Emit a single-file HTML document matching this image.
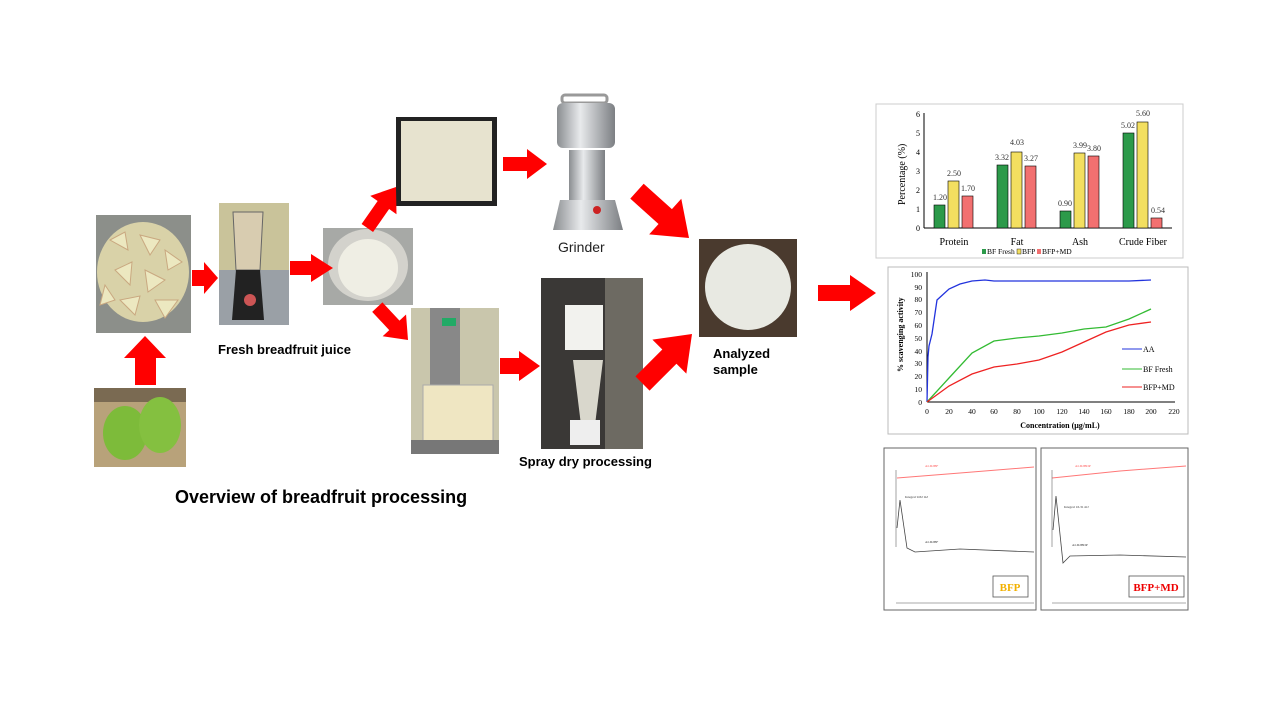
<!DOCTYPE html>
<html><head><meta charset="utf-8"><style>
html,body{margin:0;padding:0;background:#fff;width:1280px;height:720px;overflow:hidden}
svg{display:block}
text{font-family:"Liberation Sans",Arial,sans-serif}
g.s text{font-family:"Liberation Serif",serif}
</style></head><body>
<svg width="1280" height="720" viewBox="0 0 1280 720" xmlns="http://www.w3.org/2000/svg">
<defs>
<linearGradient id="steel" x1="0" x2="1"><stop offset="0" stop-color="#8a8d90"/><stop offset=".4" stop-color="#e8eaec"/><stop offset="1" stop-color="#7c7f83"/></linearGradient>
</defs>

<!-- photo 1 breadfruit pieces -->
<rect x="96" y="215" width="95" height="118" fill="#8c8f8a"/>
<ellipse cx="143" cy="272" rx="46" ry="50" fill="#d9d2a8"/>
<g fill="#ece8c0" stroke="#c9a880" stroke-width="1">
<polygon points="110,240 125,232 128,250"/><polygon points="140,235 160,240 150,255"/><polygon points="165,250 182,262 168,270"/>
<polygon points="115,270 132,262 130,285"/><polygon points="145,270 165,280 148,292"/><polygon points="120,300 140,296 135,315"/>
<polygon points="155,300 178,300 165,318"/><polygon points="105,285 115,300 100,305"/></g>
<!-- photo 2 green fruit -->
<rect x="94" y="388" width="92" height="79" fill="#b8a27a"/>
<rect x="94" y="388" width="92" height="14" fill="#7a6a52"/>
<ellipse cx="125" cy="433" rx="22" ry="27" fill="#7dbb3a"/>
<ellipse cx="160" cy="425" rx="21" ry="28" fill="#84c040"/>
<!-- photo 3 blender -->
<rect x="219" y="203" width="70" height="122" fill="#c9c39a"/>
<rect x="219" y="270" width="70" height="55" fill="#9aa0a6"/>
<path d="M233 212 h30 l-3 58 h-24 z" fill="#d8ccb0" stroke="#666"/>
<path d="M236 270 h24 l4 50 h-32 z" fill="#222"/>
<circle cx="250" cy="300" r="6" fill="#c55" />
<!-- photo 4 bowl -->
<rect x="323" y="228" width="90" height="77" fill="#a7a9a6"/>
<ellipse cx="368" cy="265" rx="40" ry="36" fill="#d3d2cc"/>
<ellipse cx="368" cy="268" rx="30" ry="29" fill="#efeee4"/>
<!-- photo 5 tray -->
<rect x="396" y="117" width="101" height="89" fill="#222"/>
<rect x="401" y="121" width="91" height="80" fill="#e7e3cf"/>
<!-- photo 6 beaker -->
<rect x="411" y="308" width="88" height="146" fill="#c9c6ac"/>
<rect x="430" y="308" width="30" height="90" fill="#888"/>
<rect x="442" y="318" width="14" height="8" fill="#2a6"/>
<rect x="423" y="385" width="70" height="60" fill="#efe6c2" stroke="#aaa"/>
<rect x="411" y="440" width="88" height="14" fill="#777"/>
<!-- grinder -->
<rect x="562" y="95" width="45" height="8" rx="3" fill="none" stroke="#999" stroke-width="3"/>
<rect x="557" y="103" width="58" height="45" rx="6" fill="url(#steel)"/>
<rect x="569" y="150" width="36" height="50" fill="url(#steel)"/>
<path d="M560 200 h55 l8 30 h-70 z" fill="url(#steel)"/>
<circle cx="597" cy="210" r="4" fill="#c22"/>
<text x="558" y="252" font-size="14" fill="#222">Grinder</text>
<!-- spray dryer -->
<rect x="541" y="278" width="102" height="171" fill="#3a3836"/>
<rect x="605" y="278" width="38" height="171" fill="#6d6a62"/>
<rect x="565" y="305" width="38" height="45" fill="#f2f2ee"/>
<path d="M573 360 h30 l-8 65 h-14 z" fill="#d9d7cc"/>
<rect x="570" y="420" width="30" height="25" fill="#eee"/>
<text x="519" y="466" font-size="13" font-weight="bold">Spray dry processing</text>
<!-- analyzed sample -->
<rect x="699" y="239" width="98" height="98" fill="#4a3a2e"/>
<circle cx="748" cy="287" r="43" fill="#e8e9e2"/>
<text x="713" y="358" font-size="13" font-weight="bold">Analyzed</text>
<text x="713" y="374" font-size="13" font-weight="bold">sample</text>

<text x="218" y="354" font-size="13" font-weight="bold">Fresh breadfruit juice</text>
<text x="175" y="503" font-size="18" font-weight="bold">Overview of breadfruit processing</text>

<!-- arrows -->
<polygon points="135,385 135,358 124,358 145,336 166,358 156,358 156,385" fill="#f00"/>
<polygon points="192,270 204,270 204,262 218,278 204,294 204,286 192,286" fill="#f00"/>
<polygon points="290,261 311,261 311,254 333,268 311,282 311,275 290,275" fill="#f00"/>
<g transform="translate(396,187) rotate(-55)"><polygon points="-50,-7 -22,-7 -22,-16 0,0 -22,16 -22,7 -50,7" fill="#f00"/></g>
<g transform="translate(408,340) rotate(47)"><polygon points="-45,-7 -20,-7 -20,-16 0,0 -20,16 -20,7 -45,7" fill="#f00"/></g>
<polygon points="503,157 527,157 527,149 547,164 527,179 527,171 503,171" fill="#f00"/>
<polygon points="500,358 519,358 519,351 540,366 519,381 519,374 500,374" fill="#f00"/>
<g transform="translate(689,238) rotate(42)"><polygon points="-70,-10 -32,-10 -32,-24 0,0 -32,24 -32,10 -70,10" fill="#f00"/></g>
<g transform="translate(692,334) rotate(-45)"><polygon points="-70,-10 -32,-10 -32,-24 0,0 -32,24 -32,10 -70,10" fill="#f00"/></g>
<polygon points="818,285 850,285 850,275 876,293 850,311 850,301 818,301" fill="#f00"/>

<!-- bar chart -->
<g class="s">
<rect x="876" y="104" width="307" height="154" fill="#fff" stroke="#ccc"/>
<line x1="924" y1="113" x2="924" y2="228" stroke="#000"/>
<line x1="924" y1="228" x2="1172" y2="228" stroke="#000"/>
<g font-size="8" text-anchor="end">
<text x="920" y="231">0</text><text x="920" y="212">1</text><text x="920" y="193">2</text><text x="920" y="174">3</text><text x="920" y="155">4</text><text x="920" y="136">5</text><text x="920" y="117">6</text></g>
<text transform="translate(905,205) rotate(-90)" font-size="10">Percentage (%)</text>
<g stroke="#000" stroke-width=".6">
<rect x="934" y="205" width="11" height="23" fill="#2c9a4a"/><rect x="948" y="181" width="11" height="47" fill="#f3df60"/><rect x="962" y="196" width="11" height="32" fill="#f27070"/>
<rect x="997" y="165" width="11" height="63" fill="#2c9a4a"/><rect x="1011" y="152" width="11" height="76" fill="#f3df60"/><rect x="1025" y="166" width="11" height="62" fill="#f27070"/>
<rect x="1060" y="211" width="11" height="17" fill="#2c9a4a"/><rect x="1074" y="153" width="11" height="75" fill="#f3df60"/><rect x="1088" y="156" width="11" height="72" fill="#f27070"/>
<rect x="1123" y="133" width="11" height="95" fill="#2c9a4a"/><rect x="1137" y="122" width="11" height="106" fill="#f3df60"/><rect x="1151" y="218" width="11" height="10" fill="#f27070"/>
</g>
<g font-size="8" fill="#333" text-anchor="middle">
<text x="940" y="200">1.20</text><text x="954" y="176">2.50</text><text x="968" y="191">1.70</text>
<text x="1002" y="160">3.32</text><text x="1017" y="145">4.03</text><text x="1031" y="161">3.27</text>
<text x="1065" y="206">0.90</text><text x="1080" y="148">3.99</text><text x="1094" y="151">3.80</text>
<text x="1128" y="128">5.02</text><text x="1143" y="116">5.60</text><text x="1158" y="213">0.54</text></g>
<g font-size="10" text-anchor="middle">
<text x="954" y="245">Protein</text><text x="1017" y="245">Fat</text><text x="1080" y="245">Ash</text><text x="1143" y="245">Crude Fiber</text></g>
<g font-size="7.5"><rect x="982" y="249" width="4" height="5" fill="#2c9a4a"/><text x="987" y="254">BF Fresh</text>
<rect x="1017" y="249" width="4" height="5" fill="#f3df60" stroke="#000" stroke-width=".4"/><text x="1022" y="254">BFP</text>
<rect x="1037" y="249" width="4" height="5" fill="#f27070"/><text x="1042" y="254">BFP+MD</text></g>
</g>

<!-- line chart -->
<g class="s">
<rect x="888" y="267" width="300" height="167" fill="#fff" stroke="#bbb"/>
<line x1="927" y1="272" x2="927" y2="402" stroke="#000"/>
<line x1="927" y1="402" x2="1175" y2="402" stroke="#000"/>
<g font-size="7.5" text-anchor="end">
<text x="922" y="405">0</text><text x="922" y="392">10</text><text x="922" y="379">20</text><text x="922" y="366">30</text><text x="922" y="354">40</text><text x="922" y="341">50</text><text x="922" y="328">60</text><text x="922" y="315">70</text><text x="922" y="302">80</text><text x="922" y="290">90</text><text x="922" y="277">100</text></g>
<g font-size="7.5" text-anchor="middle">
<text x="927" y="414">0</text><text x="949" y="414">20</text><text x="972" y="414">40</text><text x="994" y="414">60</text><text x="1017" y="414">80</text><text x="1039" y="414">100</text><text x="1062" y="414">120</text><text x="1084" y="414">140</text><text x="1106" y="414">160</text><text x="1129" y="414">180</text><text x="1151" y="414">200</text><text x="1174" y="414">220</text></g>
<text x="1060" y="428" font-size="8" font-weight="bold" text-anchor="middle">Concentration (μg/mL)</text>
<text transform="translate(903,372) rotate(-90)" font-size="8" font-weight="bold">% scavenging activity</text>
<polyline fill="none" stroke="#2233dd" stroke-width="1.3" points="927,402 928,357 929,346 932,334 937,300 949,289 960,284 972,281 985,280 994,281 1017,281 1039,281 1062,281 1084,281 1106,281 1129,281 1151,280"/>
<polyline fill="none" stroke="#33bb33" stroke-width="1.3" points="927,402 949,378 972,353 994,341 1017,338 1039,336 1062,333 1084,329 1106,327 1129,319 1151,309"/>
<polyline fill="none" stroke="#ee2222" stroke-width="1.3" points="927,402 949,386 972,374 994,367 1017,364 1039,360 1062,352 1084,342 1106,332 1129,325 1151,322"/>
<g font-size="8">
<line x1="1122" y1="349" x2="1142" y2="349" stroke="#2233dd"/><text x="1143" y="352">AA</text>
<line x1="1122" y1="369" x2="1142" y2="369" stroke="#33bb33"/><text x="1143" y="372">BF Fresh</text>
<line x1="1122" y1="387" x2="1142" y2="387" stroke="#ee2222"/><text x="1143" y="390">BFP+MD</text></g>
</g>

<!-- DSC charts -->
<g class="s">
<rect x="884" y="448" width="152" height="162" fill="#fff" stroke="#666"/>
<rect x="1041" y="448" width="147" height="162" fill="#fff" stroke="#666"/>
<line x1="896" y1="603" x2="1034" y2="603" stroke="#555" stroke-width=".6"/>
<line x1="1052" y1="603" x2="1186" y2="603" stroke="#555" stroke-width=".6"/>
<polyline fill="none" stroke="#f77" points="897,478 960,473 1034,467"/>
<polyline fill="none" stroke="#f77" points="1052,478 1120,471 1186,466"/>
<line x1="896" y1="470" x2="896" y2="547" stroke="#666" stroke-width=".6"/>
<line x1="1052" y1="470" x2="1052" y2="547" stroke="#666" stroke-width=".6"/>
<polyline fill="none" stroke="#444" stroke-width=".8" points="897,528 900,500 907,548 915,552 960,549 1034,552"/>
<polyline fill="none" stroke="#444" stroke-width=".8" points="1053,530 1056,496 1063,563 1070,556 1120,555 1186,557"/>
<g font-size="3.5" fill="#f55"><text x="925" y="467">ALD2BF</text><text x="1075" y="467">ALD2BDP</text></g>
<g font-size="3.5" fill="#333"><text x="905" y="498">Integral    9.82 mJ</text><text x="1064" y="508">Integral   16.31 mJ</text>
<text x="925" y="543">ALD2BF</text><text x="1072" y="546">ALD2BDP</text></g>
<rect x="993" y="576" width="35" height="21" fill="#fff" stroke="#555" stroke-width=".8"/>
<text x="1010" y="591" font-size="11" font-weight="bold" fill="#f2b100" text-anchor="middle">BFP</text>
<rect x="1129" y="576" width="55" height="21" fill="#fff" stroke="#555" stroke-width=".8"/>
<text x="1156" y="591" font-size="11" font-weight="bold" fill="#e00" text-anchor="middle">BFP+MD</text>
</g>
</svg>
</body></html>
